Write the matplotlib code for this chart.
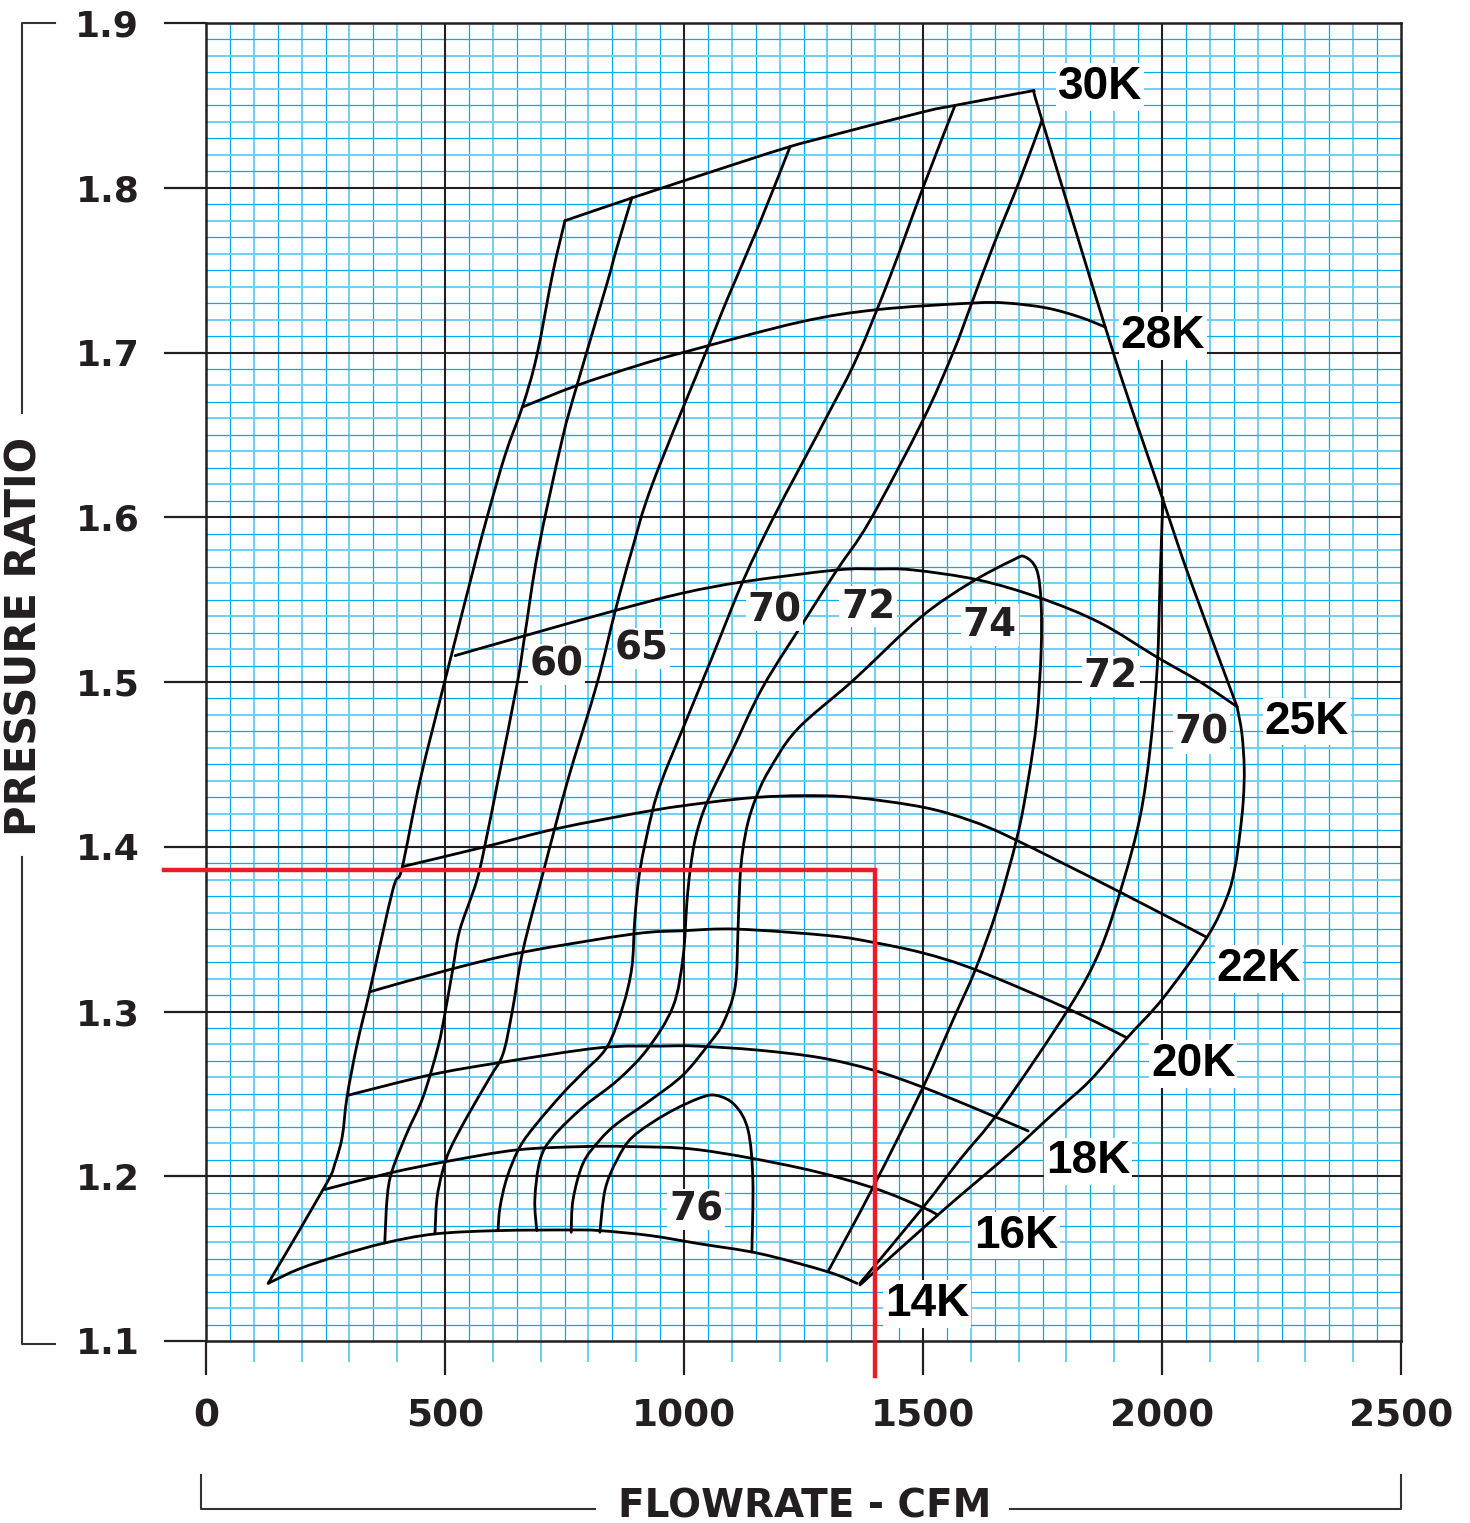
import numpy as np
import matplotlib
matplotlib.use('Agg')
import matplotlib.pyplot as plt
from matplotlib.lines import Line2D
from matplotlib.path import Path
from matplotlib.patches import PathPatch

INK = '#231f20'
CYAN = '#00aeef'
CYAN_LIGHT = '#6dcff6'
RED = '#ed1c24'

# --- compressor map data (flow in CFM, pressure ratio) ---
surge_flow = [130, 249, 270, 285, 295, 316, 343, 391, 410, 448, 500, 559, 588, 626, 663, 692, 726, 751]
surge_pr = [1.135, 1.194, 1.208, 1.224, 1.248, 1.280, 1.313, 1.374, 1.387, 1.4405, 1.501, 1.568,
            1.600, 1.638, 1.668, 1.698, 1.749, 1.780]

choke_flow = [1732, 1749, 1898, 2002, 2059, 2157]
choke_pr = [1.859, 1.841, 1.700, 1.6105, 1.562, 1.485]

# speed lines
k30_flow = [751, 893, 1103, 1222, 1299, 1500, 1567, 1732]
k30_pr = [1.780, 1.794, 1.814, 1.825, 1.831, 1.846, 1.850, 1.859]

k28_flow = [663, 776, 902, 998, 1243, 1404, 1602, 1676, 1759, 1828, 1881]
k28_pr = [1.667, 1.680, 1.692, 1.700, 1.7185, 1.726, 1.730, 1.730, 1.727, 1.7215, 1.7155]

k25_flow = [521, 672, 851, 998, 1128, 1320, 1404, 1479, 1615, 1745, 1870, 1990, 2080, 2157]
k25_pr = [1.516, 1.5285, 1.543, 1.554, 1.561, 1.568, 1.5686, 1.568, 1.562, 1.551, 1.536, 1.515,
          1.500, 1.485]

k22_flow = [412, 584, 734, 933, 1054, 1153, 1249, 1354, 1500, 1598, 1688, 1912, 2094]
k22_pr = [1.388, 1.400, 1.411, 1.422, 1.427, 1.430, 1.431, 1.430, 1.424, 1.416, 1.405, 1.3725, 1.345]

k20_flow = [343, 517, 663, 893, 998, 1111, 1305, 1395, 1500, 1613, 1808, 1927]
k20_pr = [1.312, 1.326, 1.336, 1.347, 1.349, 1.350, 1.346, 1.342, 1.3355, 1.325, 1.301, 1.284]

k18_flow = [295, 469, 615, 824, 956, 1027, 1153, 1284, 1395, 1500, 1619, 1720]
k18_pr = [1.249, 1.2615, 1.269, 1.278, 1.279, 1.279, 1.2766, 1.272, 1.2645, 1.254, 1.240, 1.2275]

k16_flow = [249, 385, 504, 651, 789, 887, 1033, 1243, 1395, 1500, 1531]
k16_pr = [1.192, 1.202, 1.209, 1.216, 1.218, 1.218, 1.216, 1.205, 1.193, 1.181, 1.1765]

k14_flow = [130, 197, 280, 374, 479, 611, 764, 824, 929, 1033, 1159, 1301, 1362]
k14_pr = [1.135, 1.144, 1.152, 1.1595, 1.165, 1.167, 1.1674, 1.167, 1.164, 1.159, 1.153, 1.142, 1.135]

# efficiency islands
eff60_flow = [374, 379, 389, 420, 454, 485, 500, 517, 531, 567, 590, 611, 651, 667, 695, 745, 776,
              839, 858, 891]
eff60_pr = [1.1595, 1.187, 1.203, 1.226, 1.248, 1.278, 1.299, 1.327, 1.3495, 1.380, 1.410, 1.4405,
            1.499, 1.5285, 1.580, 1.647, 1.680, 1.742, 1.762, 1.794]

eff65_flow = [479, 483, 494, 510, 546, 594, 621, 640, 663, 705, 757, 818, 856, 891, 935, 1054, 1090,
              1159, 1222]
eff65_pr = [1.165, 1.186, 1.202, 1.216, 1.236, 1.260, 1.274, 1.299, 1.337, 1.384, 1.4405, 1.499,
            1.543, 1.580, 1.621, 1.706, 1.732, 1.779, 1.825]

eff70_flow = [611, 615, 630, 657, 692, 747, 789, 839, 872, 891, 897, 908, 933, 954, 998, 1056, 1123,
              1184, 1243, 1305, 1362, 1431, 1500, 1567]
eff70_pr = [1.167, 1.181, 1.1995, 1.218, 1.232, 1.2505, 1.263, 1.2785, 1.303, 1.327, 1.3555, 1.386,
            1.4205, 1.4405, 1.472, 1.513, 1.561, 1.598, 1.6305, 1.6645, 1.697, 1.746, 1.800, 1.850]

eff72_flow = [692, 688, 699, 726, 789, 860, 923, 977, 998, 1006, 1013, 1023, 1040, 1067, 1102, 1165,
              1257, 1320, 1389, 1500, 1563, 1602, 1646, 1703, 1749]
eff72_pr = [1.167, 1.186, 1.210, 1.224, 1.242, 1.258, 1.277, 1.303, 1.333, 1.366, 1.386, 1.404,
            1.421, 1.4387, 1.459, 1.497, 1.5395, 1.568, 1.598, 1.659, 1.700, 1.730, 1.764, 1.805, 1.841]

eff72r_flow = [2002, 1996, 1990, 1975, 1954, 1918, 1870, 1803, 1661, 1577, 1500, 1368]
eff72r_pr = [1.612, 1.562, 1.509, 1.459, 1.418, 1.378, 1.337, 1.301, 1.240, 1.210, 1.181, 1.135]

eff70r_flow = [2157, 2167, 2172, 2170, 2163, 2153, 2136, 2094, 2002, 1927, 1849, 1780, 1682, 1531, 1368]
eff70r_pr = [1.485, 1.469, 1.448, 1.428, 1.408, 1.388, 1.3695, 1.345, 1.308, 1.284, 1.258, 1.240,
             1.214, 1.1765, 1.134]

eff74_flow = [764, 768, 789, 824, 860, 929, 998, 1054, 1082, 1107, 1113, 1117, 1123, 1134, 1151, 1176,
              1236, 1354, 1494, 1598, 1688, 1713, 1738, 1747, 1747, 1738, 1720, 1697, 1655, 1609,
              1563, 1500, 1395, 1301]
eff74_pr = [1.166, 1.186, 1.208, 1.222, 1.232, 1.246, 1.2615, 1.281, 1.293, 1.315, 1.3495, 1.380,
            1.398, 1.415, 1.430, 1.4454, 1.471, 1.501, 1.539, 1.560, 1.574, 1.576, 1.568, 1.548,
            1.518, 1.477, 1.4405, 1.406, 1.362, 1.325, 1.295, 1.254, 1.193, 1.142]

eff76_flow = [824, 835, 860, 893, 964, 1033, 1069, 1107, 1134, 1144, 1142]
eff76_pr = [1.166, 1.192, 1.210, 1.224, 1.238, 1.2475, 1.249, 1.243, 1.228, 1.198, 1.154]

# labels
speed_labels = ['30K', '28K', '25K', '22K', '20K', '18K', '16K', '14K']
speed_label_flow = [1870, 2002, 2303, 2203, 2065, 1845, 1695, 1508]
speed_label_pr = [1.864, 1.713, 1.479, 1.329, 1.271, 1.212, 1.167, 1.1255]

eff_labels = ['60', '65', '70', '72', '74', '72', '70', '76']
eff_label_flow = [734, 912, 1190, 1385, 1640, 1893, 2082, 1025]
eff_label_pr = [1.513, 1.523, 1.546, 1.548, 1.537, 1.506, 1.4715, 1.182]

# operating point marker (red guide lines)
op_flow = 1400
op_pr = 1.386
guide_flow_start = -88
guide_pr_end = 1.079

x_ticks = [0, 500, 1000, 1500, 2000, 2500]
y_ticks = [1.1, 1.2, 1.3, 1.4, 1.5, 1.6, 1.7, 1.8, 1.9]


def smooth_path(xs, ys):
    # Catmull-Rom through the read points, drawn as cubic Bezier segments
    p = np.column_stack([xs, ys]).astype(float)
    ext = np.vstack([p[0], p, p[-1]])
    verts = [p[0]]
    codes = [Path.MOVETO]
    for i in range(len(p) - 1):
        p0, p1, p2, p3 = ext[i], ext[i + 1], ext[i + 2], ext[i + 3]
        verts += [p1 + (p2 - p0) / 6, p2 - (p3 - p1) / 6, p2]
        codes += [Path.CURVE4] * 3
    return Path(verts, codes)


W, H = 1470, 1523
fig = plt.figure(figsize=(W / 100, H / 100), dpi=100)
ax = fig.add_axes([206 / W, 182 / H, 1195 / W, 1318 / H])
ax.set_xlim(0, 2500)
ax.set_ylim(1.1, 1.9)

# graph paper
gx = np.arange(50, 2500, 50)
ax.vlines([v for v in gx if v % 100 != 0], 1.1, 1.9, colors=CYAN, lw=0.9, zorder=1)
ax.vlines([v for v in gx if v % 100 == 0 and v % 500 != 0], 1.1, 1.9, colors=CYAN_LIGHT, lw=1.4, zorder=1)
gy = np.arange(111, 190)
ax.hlines([v / 100 for v in gy if v % 2 == 1], 0, 2500, colors=CYAN, lw=0.9, zorder=1)
ax.hlines([v / 100 for v in gy if v % 2 == 0 and v % 10 != 0], 0, 2500, colors=CYAN_LIGHT, lw=1.4, zorder=1)
ax.vlines(x_ticks[1:-1], 1.1, 1.9, colors=INK, lw=1.5, zorder=2)
ax.hlines(y_ticks[1:-1], 0, 2500, colors=INK, lw=1.5, zorder=2)

for s in ax.spines.values():
    s.set_color(INK)
    s.set_linewidth(1.8)

curves = [
    (surge_flow, surge_pr), (choke_flow, choke_pr),
    (k30_flow, k30_pr), (k28_flow, k28_pr), (k25_flow, k25_pr), (k22_flow, k22_pr),
    (k20_flow, k20_pr), (k18_flow, k18_pr), (k16_flow, k16_pr), (k14_flow, k14_pr),
    (eff60_flow, eff60_pr), (eff65_flow, eff65_pr), (eff70_flow, eff70_pr),
    (eff72_flow, eff72_pr), (eff72r_flow, eff72r_pr), (eff70r_flow, eff70r_pr),
    (eff74_flow, eff74_pr), (eff76_flow, eff76_pr),
]
for fx, fy in curves:
    ax.add_patch(PathPatch(smooth_path(fx, fy), fc='none', ec='black', lw=2.0,
                           capstyle='round', joinstyle='round', zorder=4))

for t, fx, fy in zip(speed_labels, speed_label_flow, speed_label_pr):
    ax.text(fx, fy, t, ha='center', va='center_baseline', fontsize=33, fontweight='bold',
            family='Liberation Sans', color='black', zorder=6,
            bbox=dict(boxstyle='square,pad=0.04', fc='white', ec='none'))

for t, fx, fy in zip(eff_labels, eff_label_flow, eff_label_pr):
    ax.text(fx, fy, t, ha='center', va='center_baseline', fontsize=28, fontweight='bold',
            family='DejaVu Sans', color=INK, zorder=6,
            bbox=dict(boxstyle='square,pad=0.04', fc='white', ec='none'))

ax.plot([guide_flow_start, op_flow, op_flow], [op_pr, op_pr, guide_pr_end], color=RED, lw=3.2,
        clip_on=False, solid_joinstyle='miter', zorder=7)

# ticks
ax.set_xticks(x_ticks)
ax.set_xticklabels([str(v) for v in x_ticks])
ax.set_yticks(y_ticks)
ax.set_yticklabels([f'{v:.1f}' for v in y_ticks])
ax.set_xticks([v for v in range(100, 2500, 100) if v % 500 != 0], minor=True)
ax.tick_params(axis='x', which='major', direction='out', length=24.5, width=1.6, color=INK,
               pad=17, labelsize=27, labelcolor=INK)
ax.tick_params(axis='x', which='minor', direction='out', length=15, width=1.5, color=CYAN_LIGHT)
ax.tick_params(axis='y', which='major', direction='out', length=30, width=1.6, color=INK,
               pad=18, labelsize=26, labelcolor=INK)
for lab in ax.get_xticklabels() + ax.get_yticklabels():
    lab.set_fontweight('bold')


# axis titles with bracket rules
def px(x, y):
    return x / W, 1 - y / H


def rule(points):
    xs, ys = zip(*[px(*p) for p in points])
    fig.add_artist(Line2D(xs, ys, color='#333333', lw=1.5, transform=fig.transFigure))


rule([(55, 23), (22, 23), (22, 413)])
rule([(22, 857), (22, 1344), (55, 1344)])
rule([(201, 1475), (201, 1509), (595, 1509)])
rule([(1010, 1509), (1401, 1509), (1401, 1475)])

fig.text(*px(25, 636), 'PRESSURE RATIO', rotation=90, ha='center', va='center', fontsize=30,
         fontweight='bold', color=INK)
fig.text(*px(805, 1503), 'FLOWRATE - CFM', ha='center', va='center_baseline', fontsize=28,
         fontweight='bold', color=INK)

fig.savefig('out.png', dpi=100, facecolor='white')
